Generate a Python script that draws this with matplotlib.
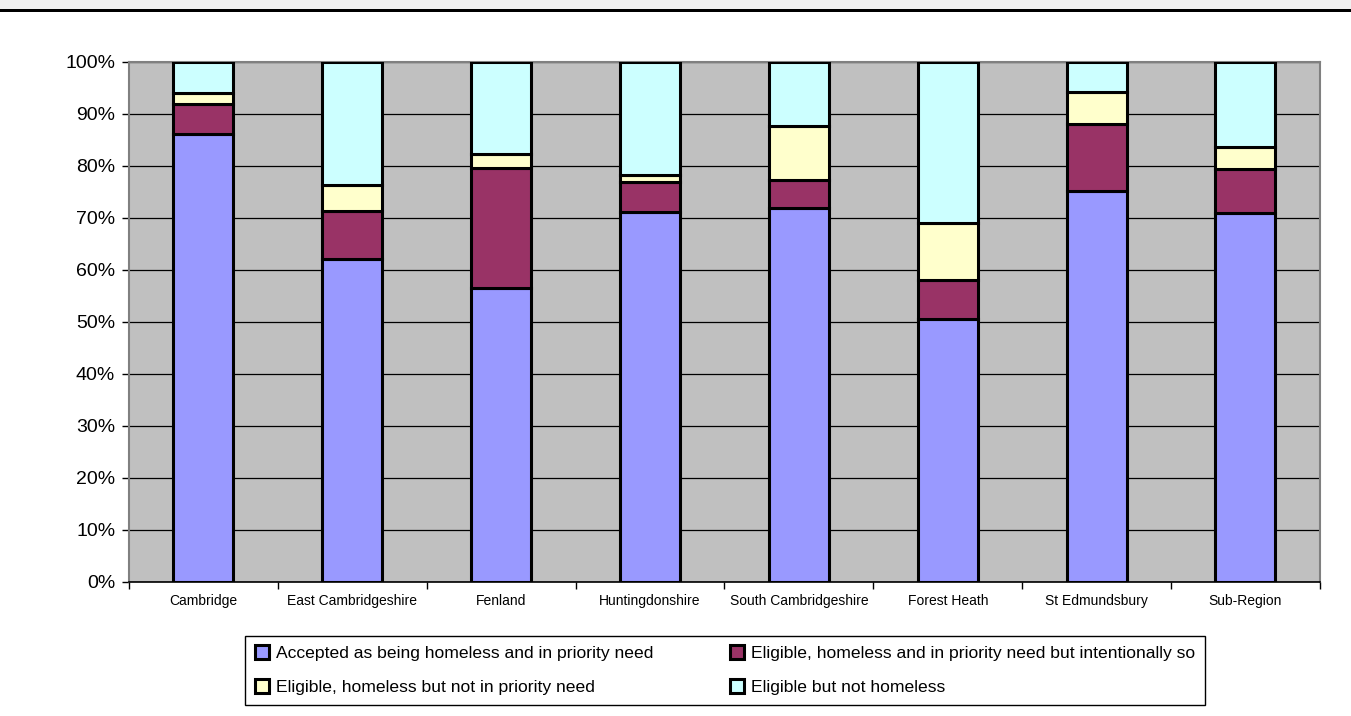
import matplotlib.pyplot as plt
from matplotlib.patches import Rectangle
from matplotlib.ticker import PercentFormatter, FixedLocator
import numpy as np

plt.rcParams['font.family'] = ['Liberation Sans', 'DejaVu Sans']

# share of homelessness decisions by district (%)
districts = ["Cambridge", "East Cambridgeshire", "Fenland", "Huntingdonshire",
             "South Cambridgeshire", "Forest Heath", "St Edmundsbury", "Sub-Region"]
accepted = [86.1, 62.0, 56.4, 71.1, 71.9, 50.6, 75.1, 70.9]
intentional = [5.8, 9.2, 23.2, 5.8, 5.4, 7.5, 13.0, 8.5]
not_priority = [2.0, 5.0, 2.7, 1.3, 10.4, 10.9, 6.0, 4.2]
not_homeless = [6.1, 23.8, 17.7, 21.8, 12.3, 31.0, 5.9, 16.4]

series_names = ["Accepted as being homeless and in priority need",
                "Eligible, homeless and in priority need but intentionally so",
                "Eligible, homeless but not in priority need",
                "Eligible but not homeless"]
colours = ["#9999FF", "#993366", "#FFFFCC", "#CCFFFF"]

fig = plt.figure(figsize=(13.51, 7.16), dpi=100)
ax = fig.add_axes([0.0955, 0.1876, 0.8815, 0.7262])
ax.set_facecolor("#C0C0C0")

x = np.arange(len(districts))
bottom = np.zeros(len(districts))
handles = []
for vals, name, col in zip([accepted, intentional, not_priority, not_homeless],
                           series_names, colours):
    bars = ax.bar(x, vals, 0.403, bottom=bottom, color=col, edgecolor="black",
                  linewidth=2.2, label=name, zorder=3)
    handles.append(bars)
    bottom += np.array(vals)

ax.set_xlim(-0.5, len(districts) - 0.5)
ax.set_ylim(0, 100)
ax.yaxis.set_major_locator(FixedLocator(np.arange(0, 101, 10)))
ax.yaxis.set_major_formatter(PercentFormatter(decimals=0))
ax.grid(axis="y", color="black", linewidth=0.9, zorder=1)

ax.set_xticks(x)
ax.set_xticklabels(districts, fontsize=10)
ax.tick_params(axis="x", which="major", length=0, pad=9)
ax.set_xticks(np.arange(-0.5, len(districts)), minor=True)
ax.tick_params(axis="x", which="minor", length=5, width=1, color="black")
ax.tick_params(axis="y", length=5, width=1, labelsize=14, pad=5)

for side in ["top", "right", "left"]:
    ax.spines[side].set_color("#808080")
    ax.spines[side].set_linewidth(1.5)
ax.spines["bottom"].set_color("black")
ax.spines["bottom"].set_linewidth(1.2)

# two-column legend filled row by row
order = [0, 2, 1, 3]
leg = fig.legend([handles[i] for i in order], [series_names[i] for i in order],
                 ncol=2, loc="upper left", bbox_to_anchor=(245 / 1351, 1 - 635.7 / 716),
                 fontsize=12.6, frameon=True, fancybox=False, framealpha=1,
                 edgecolor="black", handlelength=0.8, handleheight=0.8,
                 handletextpad=0.4, columnspacing=4.4, labelspacing=1.04,
                 borderpad=0.55, borderaxespad=0)
leg.get_frame().set_linewidth(1.0)

# header band across the top of the page
fig.add_artist(Rectangle((0, 1 - 9 / 716), 1, 9 / 716, transform=fig.transFigure,
                         facecolor="#F0F0F0", edgecolor="none"))
fig.add_artist(Rectangle((0, 1 - 12 / 716), 1, 3 / 716, transform=fig.transFigure,
                         facecolor="black", edgecolor="none"))

fig.savefig("out.png", dpi=100)
